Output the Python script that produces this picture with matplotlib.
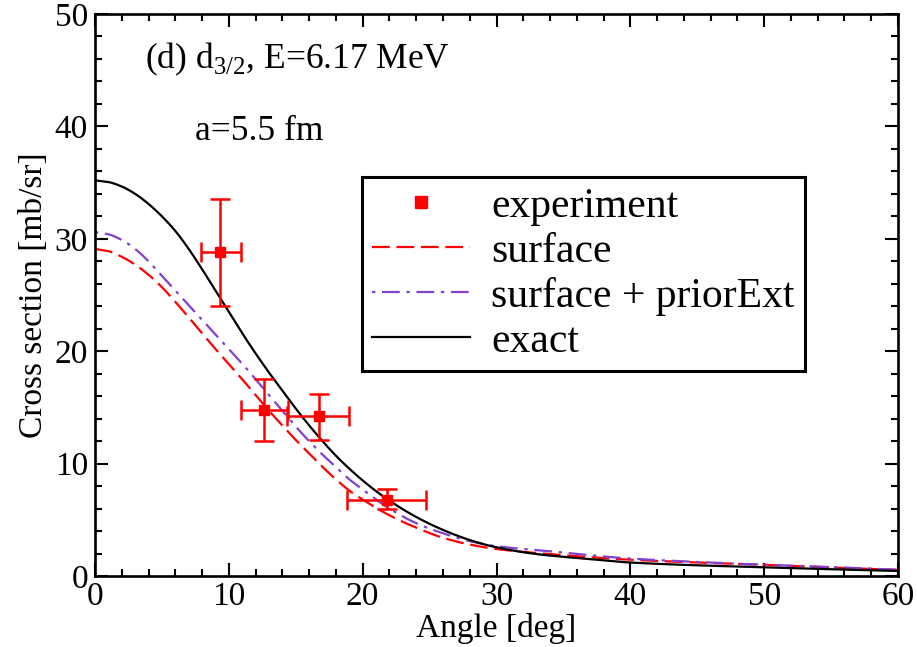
import matplotlib
matplotlib.use("Agg")
import matplotlib.pyplot as plt
import numpy as np
from matplotlib.ticker import MultipleLocator

plt.rcParams['font.family'] = ['Liberation Serif', 'DejaVu Serif']
plt.rcParams['mathtext.fontset'] = 'custom'
plt.rcParams['mathtext.rm'] = 'Liberation Serif'

# experiment
exp_x = [9.34, 12.65, 16.74, 21.8]
exp_y = [28.8, 14.8, 14.2, 6.8]
exp_xlo = [7.9, 10.9, 14.37, 18.86]
exp_xhi = [10.9, 14.4, 19.0, 24.74]
exp_ylo = [24.0, 12.0, 12.1, 6.0]
exp_yhi = [33.5, 17.5, 16.2, 7.7]

# exact
ex_ang = [0, 1, 2, 3, 4, 5, 6, 7, 8, 9, 10, 11, 12, 13, 14, 15, 16, 17, 18, 19, 20, 21, 22,
          24, 26, 28, 30, 33, 36, 40, 45, 50, 55, 60]
ex_val = [35.2, 35.05, 34.65, 34.0, 33.1, 32.0, 30.7, 29.1, 27.3, 25.4, 23.5, 21.6, 19.8, 18.1,
          16.5, 14.9, 13.4, 12.0, 10.7, 9.55, 8.5, 7.55, 6.7, 5.25, 4.1, 3.2, 2.55, 1.95, 1.6, 1.2,
          0.95, 0.78, 0.6, 0.45]

# surface + priorExt
pr_ang = [0, 1, 2, 3, 4, 5, 6, 7, 8, 9, 10, 11, 12, 13, 14, 15, 16, 17, 18, 19, 20,
          22, 24, 26, 28, 30, 34, 40, 45, 50, 55, 60]
pr_val = [30.6, 30.4, 29.9, 29.1, 28.0, 26.7, 25.4, 24.1, 22.8, 21.5, 20.2, 18.9, 17.5, 16.1,
          14.7, 13.3, 12.0, 10.8, 9.7, 8.6, 7.7, 6.0, 4.7, 3.8, 3.1, 2.65, 2.2, 1.55, 1.25, 1.0, 0.8, 0.55]

# surface
su_ang = [0, 1, 2, 3, 4, 5, 6, 7, 8, 9, 10, 11, 12, 13, 14, 15, 16, 17, 18, 19, 20,
          22, 24, 26, 28, 30, 34, 40, 45, 50, 55, 60]
su_val = [29.1, 28.9, 28.4, 27.7, 26.8, 25.7, 24.4, 23.0, 21.6, 20.2, 18.85, 17.5, 16.1, 14.7,
          13.4, 12.1, 10.9, 9.7, 8.6, 7.6, 6.8, 5.4, 4.3, 3.4, 2.8, 2.4, 1.95, 1.45, 1.2, 1.0, 0.75, 0.55]

W, H = 917, 647
fig = plt.figure(figsize=(W / 100, H / 100), dpi=100)
ax = fig.add_axes([95 / W, (H - 576) / H, (898 - 95) / W, (576 - 14) / H])

def smooth(xs, ys):
    xs = np.asarray(xs, float); ys = np.asarray(ys, float)
    xx = np.linspace(xs[0], xs[-1], 800)
    h = np.diff(xs); d = np.diff(ys) / h
    m = np.zeros_like(ys)
    for i in range(1, len(xs) - 1):
        if d[i-1] * d[i] > 0:
            w1 = 2 * h[i] + h[i-1]; w2 = h[i] + 2 * h[i-1]
            m[i] = (w1 + w2) / (w1 / d[i-1] + w2 / d[i])
    m[0] = d[0]; m[-1] = d[-1]
    idx = np.clip(np.searchsorted(xs, xx) - 1, 0, len(xs) - 2)
    t = (xx - xs[idx]) / h[idx]
    h00 = 2*t**3 - 3*t**2 + 1; h10 = t**3 - 2*t**2 + t
    h01 = -2*t**3 + 3*t**2; h11 = t**3 - t**2
    yy = h00*ys[idx] + h10*h[idx]*m[idx] + h01*ys[idx+1] + h11*h[idx]*m[idx+1]
    return xx, yy

ex = np.array(exp_x); ey = np.array(exp_y)
ax.errorbar(ex, ey,
            xerr=[ex - np.array(exp_xlo), np.array(exp_xhi) - ex],
            yerr=[ey - np.array(exp_ylo), np.array(exp_yhi) - ey],
            fmt='none', ecolor='#ff0000', elinewidth=1.8, capsize=7, capthick=1.8, zorder=3)
h_exp, = ax.plot(ex, ey, 's', color='#ff0000', markersize=7, linestyle='none', label='experiment', zorder=4)

x, y = smooth(su_ang, su_val)
h_su, = ax.plot(x, y, color='#ff0000', lw=1.6, dashes=(8, 3), label='surface', zorder=2)
x, y = smooth(pr_ang, pr_val)
h_pr, = ax.plot(x, y, color='#8040d0', lw=1.6, dashes=(1.5, 3, 8, 3), label='surface + priorExt', zorder=2)
x, y = smooth(ex_ang, ex_val)
h_ex, = ax.plot(x, y, color='black', lw=1.6, label='exact', zorder=2)

ax.set_xlim(0, 60)
ax.set_ylim(0, 50)
ax.xaxis.set_major_locator(MultipleLocator(10))
ax.xaxis.set_minor_locator(MultipleLocator(2))
ax.yaxis.set_major_locator(MultipleLocator(10))
ax.yaxis.set_minor_locator(MultipleLocator(2))
ax.tick_params(which='both', direction='in', top=True, right=True, width=1.5, labelsize=24)
ax.tick_params(which='major', length=9.5)
ax.tick_params(which='minor', length=5)
ax.tick_params(axis='x', which='major', pad=4)
ax.tick_params(axis='y', which='major', pad=5)
for s in ax.spines.values():
    s.set_linewidth(1.9)

ax.set_xlabel('Angle [deg]', fontsize=24, labelpad=1)
ax.set_ylabel('Cross section [mb/sr]', fontsize=24, labelpad=4)

fig.text(145 / W, 1 - 68 / H, r'(d) d$_{\mathregular{3/2}}$, E=6.17 MeV', fontsize=25.5, va='baseline')
fig.text(195 / W, 1 - 140 / H, 'a=5.5 fm', fontsize=25.5, va='baseline')

leg = ax.legend(handles=[h_exp, h_su, h_pr, h_ex], loc='upper left',
                bbox_to_anchor=((362 - 95) / 803, (576 - 177) / 562), fontsize=30,
                frameon=True, fancybox=False,
                handlelength=2.35, handletextpad=0.5, labelspacing=0.15, borderpad=0.25,
                borderaxespad=0, markerscale=1.25)
leg.get_frame().set_edgecolor('black')
leg.get_frame().set_linewidth(2.2)
leg.get_frame().set_alpha(1)

fig.savefig('out.png', dpi=100)
